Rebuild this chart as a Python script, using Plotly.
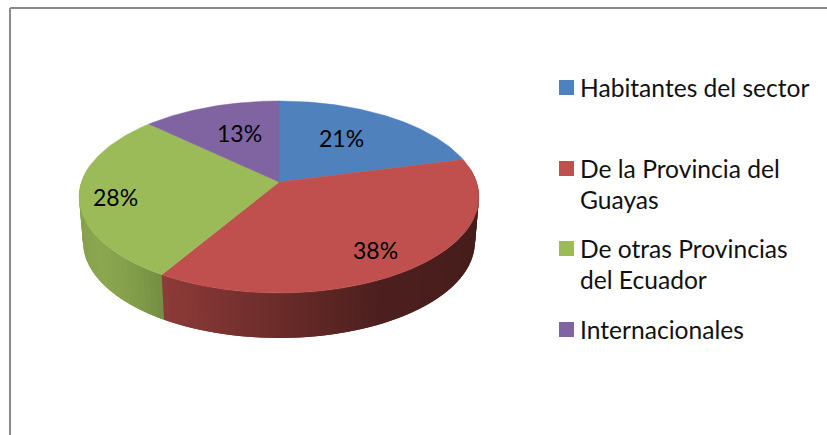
import numpy as np
import plotly.graph_objects as go

# --- data ---
categories = ["Habitantes del sector", "De la Provincia del Guayas",
              "De otras Provincias del Ecuador", "Internacionales"]
shares = [21, 37.6, 28.4, 13]
slice_colors = [(79, 129, 189), (192, 80, 77), (155, 187, 89), (128, 100, 162)]
legend_lines = [["Habitantes del sector"], ["De la Provincia del", "Guayas"],
                ["De otras Provincias", "del Ecuador"], ["Internacionales"]]

FONT = "Lato"
W, H = 827, 435
CX, CY, A, B, K = 279.0, 182.0, 197.5, 93.66, 0.156
DEPTH = 45.0


def project(theta, drop=0.0):
    """Clockwise angle from 12 o'clock (deg) -> perspective-projected position."""
    t = np.radians(theta)
    u, v = np.sin(t), np.cos(t)
    w = 1 + K * v
    x = A * u / w
    y = -B * v / w
    scale = 1 - 0.02 * (drop / DEPTH)
    return CX + x * scale, CY + y + drop


def side_factor(x, idx):
    if idx == 1:
        return np.interp(x, [162, 230, 300, 380, 479], [0.74, 0.63, 0.52, 0.40, 0.37])
    if idx == 2:
        return np.interp(x, [79, 100, 125, 162], [0.86, 0.90, 0.86, 0.76])
    return 0.6


fig = go.Figure()
edges = np.cumsum([0] + shares) / sum(shares) * 360.0

# side wall (front arc only); each strip overlaps the next so no seams show
for i, col in enumerate(slice_colors):
    a0, a1 = edges[i], edges[i + 1]
    lo, hi = max(a0, 80.0), min(a1, 280.0)
    if hi <= lo:
        continue
    n = max(2, int((hi - lo) / 2.0))
    grid = np.linspace(lo, hi, n + 1)
    for t0, t1 in zip(grid[:-1], grid[1:]):
        arc = np.linspace(t0, t1 + 2.0, 6)
        tx, ty = project(arc)
        bx, by = project(arc[::-1], DEPTH)
        f = side_factor(float(np.mean(project(np.array([t0, t1]))[0])), i)
        c = "rgb(%d,%d,%d)" % tuple(int(v * f) for v in col)
        fig.add_trace(go.Scatter(x=np.concatenate([tx, bx, tx[:1]]),
                                 y=np.concatenate([ty, by, ty[:1]]),
                                 mode="lines", fill="toself", fillcolor=c,
                                 line=dict(width=0),
                                 hoverinfo="skip", showlegend=False))

# top face
for i, col in enumerate(slice_colors):
    th = np.linspace(edges[i], edges[i + 1], 120)
    px, py = project(th)
    xs = np.concatenate([[CX], px, [CX]])
    ys = np.concatenate([[CY], py, [CY]])
    c = "rgb(%d,%d,%d)" % col
    fig.add_trace(go.Scatter(x=xs, y=ys, mode="lines", fill="toself", fillcolor=c,
                             line=dict(color=c, width=0.5), name=categories[i],
                             hoverinfo="skip", showlegend=False))

# percentage labels
label_pos = [(341, 138), (375, 250), (115, 197), (239, 133)]
annotations = []
for s, (lx, ly) in zip(shares, label_pos):
    annotations.append(dict(x=lx, y=ly, text=f"{round(s)}%", showarrow=False, xref="x", yref="y",
                            font=dict(family=FONT, size=23, color="black")))

# legend
legend_marker_y = [87.5, 168.5, 248.5, 329.5]
line_gap = 31.5
fig.add_trace(go.Scatter(x=[566.5] * 4, y=legend_marker_y, mode="markers",
                         marker=dict(symbol="square", size=15,
                                     color=["rgb(%d,%d,%d)" % c for c in slice_colors]),
                         hoverinfo="skip", showlegend=False))
for ym, lines in zip(legend_marker_y, legend_lines):
    for j, line in enumerate(lines):
        annotations.append(dict(x=578, y=ym - 0.5 + j * line_gap, text=line, showarrow=False,
                                xref="x", yref="y", xanchor="left",
                                font=dict(family=FONT, size=24.6, color="#111111")))

border = dict(color="#8a8a8a", width=2)
shapes = [dict(type="line", xref="x", yref="y", x0=10, y0=8, x1=W, y1=8, line=border),
          dict(type="line", xref="x", yref="y", x0=10, y0=8, x1=10, y1=H, line=border)]

fig.update_layout(width=W, height=H, margin=dict(l=0, r=0, t=0, b=0),
                  paper_bgcolor="white", plot_bgcolor="white", showlegend=False,
                  annotations=annotations, shapes=shapes,
                  xaxis=dict(range=[0, W], visible=False, fixedrange=True),
                  yaxis=dict(range=[H, 0], visible=False, fixedrange=True))
fig.write_html("out.html", config=dict(displayModeBar=False),
               post_script="document.body.style.margin='0';document.body.style.overflow='hidden';")
